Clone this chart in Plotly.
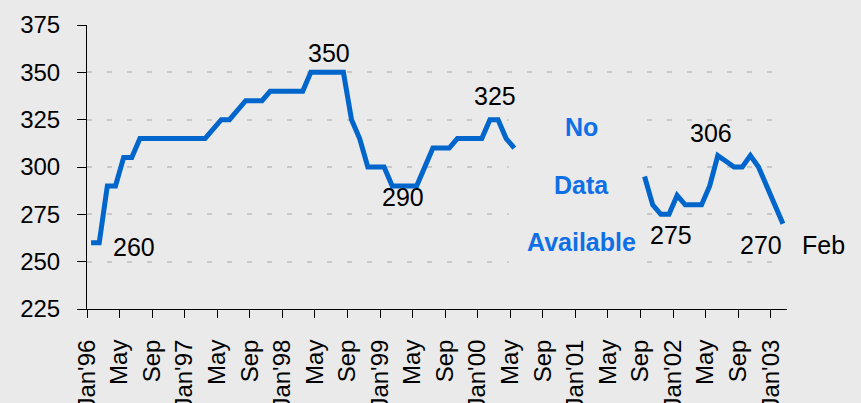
import plotly.graph_objects as go

# monthly index 0 = Jan'96 ... 85 = Feb'03
month_index = list(range(86))
price = [260, 260, 290, 290, 305, 305, 315, 315, 315, 315,
         315, 315, 315, 315, 315, 320, 325, 325, 330, 335,
         335, 335, 340, 340, 340, 340, 340, 350, 350, 350,
         350, 350, 325, 315, 300, 300, 300, 290, 290, 290,
         290, 300, 310, 310, 310, 315, 315, 315, 315, 325,
         325, 315, 310, None, None, None, None, None, None, None,
         None, None, None, None, None, None, None, None, 295, 280,
         275, 275, 285, 280, 280, 280, 290, 306, 303, 300,
         300, 306, 300, 290, 280, 270]

tick_pos = list(range(0, 85, 4))
tick_labels = ["Jan'96", 'May', 'Sep', "Jan'97", 'May', 'Sep', "Jan'98", 'May', 'Sep',
               "Jan'99", 'May', 'Sep', "Jan'00", 'May', 'Sep', "Jan'01", 'May', 'Sep',
               "Jan'02", 'May', 'Sep', "Jan'03"]
y_ticks = [225, 250, 275, 300, 325, 350, 375]

# value callouts: (text, x, y)
callouts = [('260', 5.8, 257.6), ('350', 29.7, 360.1), ('290', 38.8, 284.2),
            ('325', 50.1, 337.5), ('306', 76.7, 318.0), ('275', 71.7, 263.9),
            ('270', 82.8, 258.9)]

BG = '#EAEAEA'
FONT = 'Liberation Sans, Arial'

fig = go.Figure()
fig.add_trace(go.Scatter(
    x=[m + 0.5 for m in month_index],
    y=price,
    mode='lines',
    connectgaps=False,
    line={'color': '#0066CC', 'width': 5},
    hoverinfo='skip',
))

for text, x, y in callouts:
    fig.add_annotation(x=x, y=y, text=text, showarrow=False,
                       font={'family': FONT, 'size': 25, 'color': '#000000'})

# last month label sits outside the plotting area
fig.add_annotation(xref='paper', x=1.019, y=258.6, text='Feb', showarrow=False,
                   xanchor='left',
                   font={'family': FONT, 'size': 25, 'color': '#000000'})

for text, y in [('No', 320.9), ('Data', 290.3), ('Available', 260.2)]:
    fig.add_annotation(x=60.8, y=y, text='<b>%s</b>' % text, showarrow=False,
                       font={'family': FONT, 'size': 25, 'color': '#0F6FE6'})

# box that blanks the grid where there is no data
fig.add_shape(type='rect', x0=51.8, x1=68.0, y0=225, y1=337,
              fillcolor=BG, line={'width': 0}, layer='between')

fig.update_layout(
    width=861,
    height=403,
    showlegend=False,
    paper_bgcolor=BG,
    plot_bgcolor=BG,
    margin={'l': 87, 'r': 74, 't': 25, 'b': 94, 'pad': 0},
)

fig.update_xaxes(
    range=[0, 86],
    tickmode='array',
    tickvals=tick_pos,
    ticktext=tick_labels,
    tickangle=-90,
    ticks='outside',
    ticklen=8,
    tickcolor='#000000',
    ticklabelstandoff=12,
    showgrid=False,
    zeroline=False,
    showline=True,
    linecolor='#000000',
    linewidth=1,
    automargin=False,
    tickfont={'family': FONT, 'size': 24, 'color': '#000000'},
)

fig.update_yaxes(
    range=[225, 375],
    tickmode='array',
    tickvals=y_ticks,
    ticks='outside',
    ticklen=9,
    tickcolor='#000000',
    ticklabelstandoff=12,
    showgrid=True,
    gridcolor='#C8C8C8',
    gridwidth=2,
    griddash='5px,15px',
    zeroline=False,
    showline=True,
    linecolor='#000000',
    linewidth=1,
    automargin=False,
    tickfont={'family': FONT, 'size': 24, 'color': '#000000'},
)

fig.write_html('out.html',
               config={'displayModeBar': False},
               post_script="document.body.style.margin='0px';"
                           "document.body.style.background='%s';" % BG)
